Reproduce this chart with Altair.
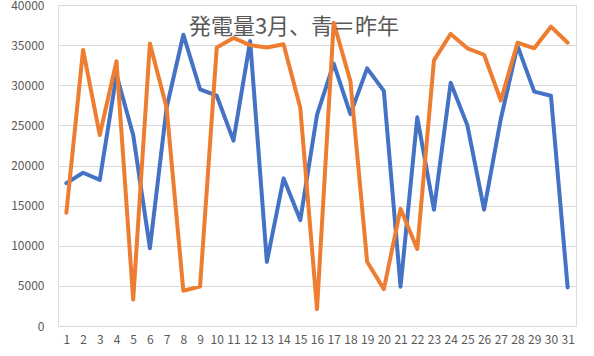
import altair as alt
import pandas as pd

days = [str(d) for d in range(1, 32)]
last_year = [17800, 19100, 18200, 31300, 23800, 9700, 27200, 36300, 29500, 28700,
             23100, 35500, 8000, 18400, 13200, 26300, 32700, 26400, 32100, 29300,
             4900, 26000, 14500, 30300, 25000, 14500, 25800, 34900, 29200, 28700, 4800]
this_year = [14100, 34400, 23800, 33000, 3300, 35200, 27200, 4400, 4900, 34700,
             35900, 35000, 34700, 35100, 27200, 2100, 37800, 30500, 8000, 4600,
             14600, 9600, 33100, 36400, 34600, 33800, 28100, 35300, 34600, 37300, 35300]
series_names = ["昨年", "今年"]
series_colors = ["#4472C4", "#ED7D31"]
title_text = "発電量3月、青＝昨年"

df = pd.DataFrame({
    "day": days * 2,
    "value": last_year + this_year,
    "series": [series_names[0]] * 31 + [series_names[1]] * 31,
})

FONT = "Noto Sans CJK JP"
GREY = "#595959"

x_enc = alt.X("day:O", sort=days,
              scale=alt.Scale(type="point", padding=0.5),
              axis=alt.Axis(title=None, labelAngle=0, labelOverlap=False,
                            labelFont=FONT, labelFontSize=12, labelColor=GREY,
                            ticks=False, domain=False, grid=False, labelPadding=8))
y_enc = alt.Y("value:Q",
              scale=alt.Scale(domain=[0, 40000], nice=False),
              axis=alt.Axis(title=None, values=list(range(0, 40001, 5000)),
                            labelFont=FONT, labelFontSize=12, labelColor=GREY,
                            ticks=False, domain=False, grid=True, gridColor="#d9d9d9",
                            gridWidth=1, labelPadding=14, format="d"))

layers = []
for name, color in zip(series_names, series_colors):
    layers.append(
        alt.Chart(df).transform_filter(alt.datum.series == name)
        .mark_line(color=color, strokeWidth=4, strokeJoin="round", strokeCap="round")
        .encode(x=x_enc, y=y_enc)
    )

title = alt.Chart(pd.DataFrame({"t": [title_text]})).mark_text(
    font=FONT, fontSize=22, color=GREY, align="center", baseline="middle"
).encode(x=alt.value(236), y=alt.value(22), text="t:N")

chart = alt.layer(*layers, title).properties(
    width=518, height=321,
    autosize=alt.AutoSizeParams(type="none"),
    padding={"left": 58, "top": 5, "right": 18, "bottom": 30},
).configure_view(stroke=None).configure(background="white")

chart.save("out.html", embed_options={"renderer": "svg", "actions": False})
